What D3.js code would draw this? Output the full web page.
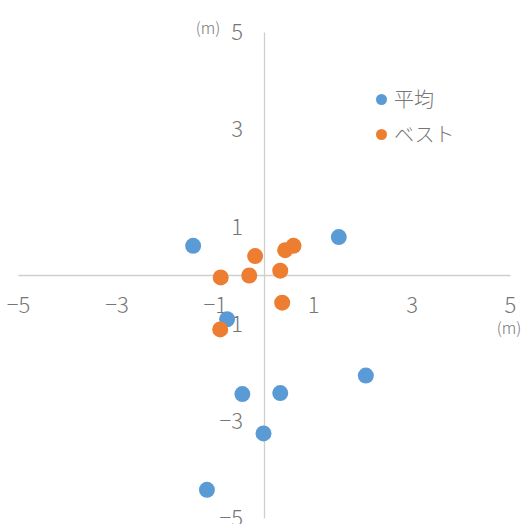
<!DOCTYPE html>
<html>
<head>
<meta charset="utf-8">
<script src="https://cdn.jsdelivr.net/npm/d3@7"></script>
<style>
  html, body { margin: 0; padding: 0; background: #fff; }
  svg text { font-family: "Noto Sans CJK JP", "Noto Sans", sans-serif; font-weight: 300; }
</style>
</head>
<body>
<svg id="chart" width="525" height="524"></svg>
<script>
// ---- data ----
const seriesNames = ["平均", "ベスト"];
const avgX = [-1.44, 1.52, -0.75, 2.07, -0.44, 0.33, -0.01, -1.16];
const avgY = [0.60, 0.78, -0.91, -2.07, -2.45, -2.43, -3.26, -4.42];
const bestX = [-0.18, 0.43, 0.60, 0.33, -0.30, -0.88, 0.37, -0.89];
const bestY = [0.39, 0.51, 0.60, 0.09, -0.01, -0.05, -0.57, -1.12];
const tickValues = [-5, -3, -1, 1, 3, 5];
const unitLabel = "(m)";
const colors = ["#5B9BD5", "#ED7D31"];

const svg = d3.select("#chart");
const x = d3.scaleLinear().domain([-5, 5]).range([18, 510]);
const y = d3.scaleLinear().domain([-5, 5]).range([518, 32]);

const axisColor = "#cfcfcf";
const textColor = "#767676";

// x axis at y=0
const gx = svg.append("g").attr("transform", `translate(0,${y(0)})`)
  .call(d3.axisBottom(x).tickValues(tickValues).tickSize(0).tickSizeOuter(0).tickFormat(d3.format("d")));
gx.select(".domain").attr("stroke", axisColor).attr("stroke-width", 1.3);
gx.selectAll("text").attr("y", 30).attr("dy", "0.35em")
  .attr("fill", textColor).style("font-size", "22px").attr("font-family", null);

// y axis at x=0
const gy = svg.append("g").attr("transform", `translate(${x(0)},0)`)
  .call(d3.axisLeft(y).tickValues(tickValues).tickSize(0).tickSizeOuter(0).tickFormat(d3.format("d")));
gy.select(".domain").attr("stroke", axisColor).attr("stroke-width", 1.3);
gy.selectAll("text").attr("x", -21).attr("dy", "0.35em")
  .attr("fill", textColor).style("font-size", "22px").attr("font-family", null);

// unit labels
svg.append("text").attr("x", 208).attr("y", 28).attr("dy", "0.35em")
  .attr("text-anchor", "middle").attr("fill", textColor).style("font-size", "16px").text(unitLabel);
svg.append("text").attr("x", 509).attr("y", 328).attr("dy", "0.35em")
  .attr("text-anchor", "middle").attr("fill", textColor).style("font-size", "16px").text(unitLabel);

// points
const avgData = avgX.map((v, i) => ({ x: v, y: avgY[i] }));
const bestData = bestX.map((v, i) => ({ x: v, y: bestY[i] }));

svg.append("g").selectAll("circle").data(avgData).join("circle")
  .attr("cx", d => x(d.x)).attr("cy", d => y(d.y)).attr("r", 8)
  .attr("fill", colors[0]);
svg.append("g").selectAll("circle").data(bestData).join("circle")
  .attr("cx", d => x(d.x)).attr("cy", d => y(d.y)).attr("r", 8)
  .attr("fill", colors[1]);

// legend
const legend = svg.append("g");
seriesNames.forEach((name, i) => {
  const cy = 99.5 + i * 35;
  legend.append("circle").attr("cx", 381.5).attr("cy", cy).attr("r", 5.5).attr("fill", colors[i]);
  legend.append("text").attr("x", 394).attr("y", cy).attr("dy", "0.35em")
    .attr("fill", textColor).style("font-size", "20px").text(name);
});
</script>
</body>
</html>
